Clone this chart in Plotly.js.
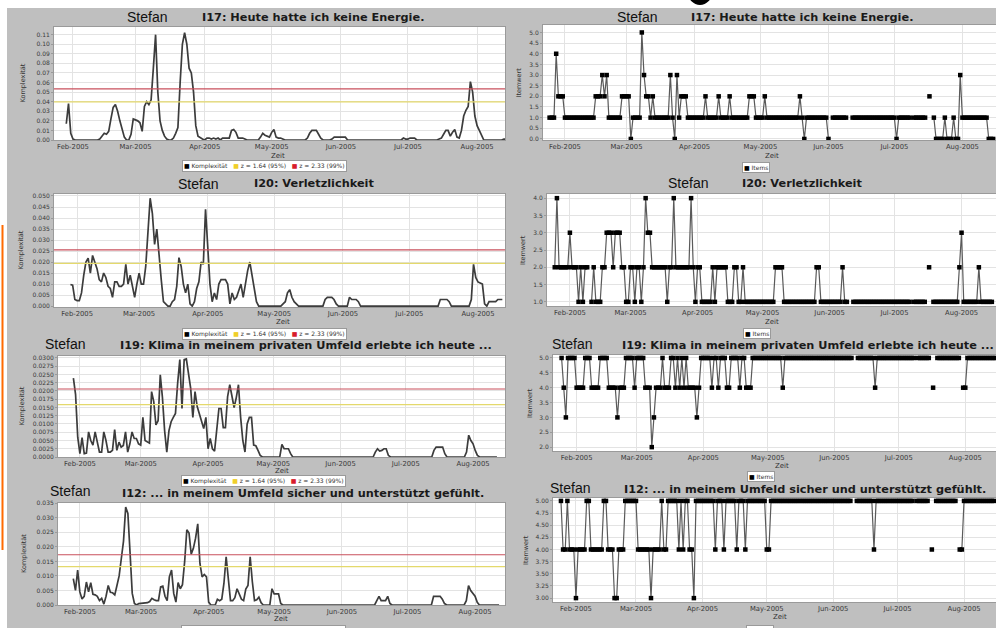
<!DOCTYPE html>
<html><head><meta charset="utf-8">
<script src="https://cdn.plot.ly/plotly-3.0.1.min.js"></script>
<style>html,body{margin:0;padding:0;background:#fff}#chart{width:996px;height:628px}</style>
</head><body><div id="chart"></div>
<script>
// ---------------- DATA ----------------
const START = [2005, 0, 25];      // first day of the daily series (25 Jan 2005)
const N_DAYS = 203;               // 25 Jan .. 15 Aug 2005
const person = 'Stefan';
const itemTitles = [
  'I17: Heute hatte ich keine Energie.',
  'I20: Verletzlichkeit',
  'I19: Klima in meinem privaten Umfeld erlebte ich heute ...',
  'I12: ... in meinem Umfeld sicher und unterstützt gefühlt.'
];
const xTitle = 'Zeit';
const yTitleLeft = 'Komplexität';
const yTitleRight = 'Itemwert';
const seriesNames = ['Komplexität', 'z = 1.64 (95%)', 'z = 2.33 (99%)'];
const itemSeriesName = 'Items';
const z95 = [0.0398, 0.0194, 0.01585, 0.0132];
const z99 = [0.0534, 0.0255, 0.0206, 0.0173];

const komplexI17 = [
null,null,null,null,0.017,0.038,0.007,0.001,0,0,
0,0,0,0,0,0,0,0,0,0.001,
0.004,0.007,0.006,0.009,0.022,0.034,0.037,0.03,0.02,0.01,
0.003,0,0,0.006,0.022,0.021,0.02,0.018,0.009,0.035,
0.04,0.037,0.042,0.075,0.11,0.05,0.02,0.01,0.004,0.001,
0,0,0.002,0.007,0.013,0.06,0.1,0.112,0.1,0.075,
0.07,0.05,0.015,0.004,0.002,0.001,0,0.002,0.002,0.001,
0.002,0.001,0.002,0,0.002,0.002,0.002,0.002,0.01,0.011,
0.008,0.002,0.002,0.002,0.001,0,0,0,0,0,
0,0.003,0.007,0.005,0.004,0.003,0.008,0.011,0.003,0.002,
0.002,0.001,0,0,0,0,0,0,0,0,
0,0,0.002,0.007,0.01,0.01,0.01,0.006,0.002,0,
0,0,0,0.001,0.003,0.003,0.003,0.003,0.003,0.003,
0,0,0,0,0,0,0,0,0,0,
0,0,0,0,0,0,0,0,0,0,
0,0,0,0,0,0.002,0.001,0.001,0.002,0.002,
0.002,0,0,0,0,0,0,0,0,0,
0,0.001,0.002,0.006,0.01,0.01,0.004,0.008,0.011,0.003,
0.002,0.01,0.025,0.031,0.035,0.061,0.05,0.025,0.015,0.01,
0.004,0,0,0,0,0,0,0,0,0,
0.001,0.001,0.001];

const itemsI17 = [
1,1,1,4,2,2,2,1,1,1,
1,1,1,1,1,1,1,1,1,1,
1,2,2,2,3,2,3,1,1,1,
1,1,1,2,2,2,2,0,1,1,
1,1,5,3,2,2,1,2,1,1,
1,1,1,1,1,3,1,0,3,1,
2,2,2,1,1,1,1,1,1,1,
1,2,1,1,1,1,1,2,1,1,
1,1,2,1,1,1,1,1,1,1,
1,2,2,2,1,1,1,1,2,1,
1,1,1,1,1,1,1,1,1,1,
1,1,1,1,2,1,0,1,1,1,
1,1,1,1,1,1,1,0,null,1,
1,1,1,1,1,1,null,null,1,1,
1,1,1,1,1,1,1,1,1,1,
1,1,1,1,1,1,1,1,0,1,
1,1,1,1,1,null,1,1,1,1,
1,1,null,2,null,1,0,0,0,0,
1,0,0,0,1,0,0,3,1,1,
1,1,1,1,1,1,1,1,1,1,
0,0,0];

const komplexI20 = [
null,null,null,null,0.0098,0.0095,0.003,0.0025,0.0025,0.006,
0.014,0.02,0.0218,0.015,0.023,0.02,0.017,0.012,0.011,0.015,
0.013,0.009,0.008,0.004,0.011,0.011,0.009,0.009,0.01,0.019,
0.01,0.014,0.009,0.004,0.01,0.015,0.01,0.01,0.018,0.034,
0.049,0.042,0.028,0.035,0.022,0.012,0.002,0.001,0,0,
0.002,0.003,0.009,0.022,0.018,0.01,0.006,0.01,0.001,0,
0.002,0.008,0.011,0.02,0.019,0.044,0.024,0.01,0.002,0.006,
0.003,0.01,0.012,0.012,0.012,0.01,0.001,0.006,0.003,0.004,
0.007,0.01,0.004,0.011,0.016,0.02,0.014,0.008,0.002,0,
0,0,0,0,0,0,0,0,0,0,
0.001,0.002,0.006,0.0075,0.004,0.002,0.001,0,0,0,
0,0,0,0,0,0,0,0,0,0.003,
0.004,0.004,0.004,0.003,0.001,0,0,0,0,0,
0.004,0.003,0.003,0.003,0.002,0,0,0,0,0,
0,0,0,0,0,0,0,0,0,0,
0,0,0,0,0,0,0,0,0,0,
0,0,0,0,0,0,0,0,0,0,
0,0.003,0.003,0.003,0.003,0.002,0,0,0,0,
0,0,0,0,0,0.003,0.019,0.013,0.011,0.0105,
0.01,0.001,0,0.002,0.002,0.002,0.002,0.003,0.003,0.003,
null,null,null];

const itemsI20 = [
2,4,2,2,2,2,2,3,2,2,
2,1,2,1,2,2,null,1,2,1,
1,1,2,2,3,3,3,2,3,3,
3,2,2,1,1,2,2,1,2,2,
1,2,4,3,3,2,2,2,2,2,
2,2,1,2,2,4,2,2,2,2,
2,2,2,4,2,1,2,2,1,1,
1,1,1,2,1,2,2,2,2,2,
1,1,1,2,2,1,1,2,1,1,
1,1,1,1,1,1,1,1,1,1,
1,1,2,2,2,2,1,1,1,1,
1,1,1,1,1,1,1,1,1,1,
1,2,2,1,1,1,1,1,1,1,
1,1,1,2,1,1,null,null,1,1,
1,1,1,1,1,1,1,1,1,1,
1,1,1,1,1,1,1,1,1,1,
1,1,1,1,1,null,1,1,1,1,
1,1,null,2,null,1,1,1,1,1,
1,1,1,1,1,1,1,2,3,1,
1,1,1,1,1,1,2,1,1,1,
1,1,1];

const komplexI19 = [
null,null,null,null,0.0239,0.019,0.006,0.001,0.0059,0.001,
0.0012,0.0076,0.005,0.0036,0.0076,0.004,0.0015,0.0015,0.0076,0.005,
0.0015,0.0015,0.002,0.0083,0.002,0.0045,0.003,0.0035,0.0076,0.0015,
0.004,0.0076,0.0056,0.0056,0.004,0.0036,0.012,0.005,0.0046,0.0042,
0.0198,0.0168,0.0097,0.011,0.0249,0.018,0.008,0.0015,0.008,0.0107,
0.012,0.0132,0.0224,0.0295,0.0147,0.0295,0.0297,0.0254,0.0208,0.012,
0.0198,0.0153,0.013,0.0112,0.0086,0.012,0.0025,0.0056,0.0025,0.0018,
0.008,0.0147,0.0147,0.0089,0.0089,0.0183,0.0219,0.0183,0.015,0.018,
0.0219,0.012,0.005,0.0015,0.01,0.012,0.012,0.0036,0.0034,0.002,
0.0005,0,0,0,0,0,0,0,0,0,
0.0038,0.0025,0.0025,0.0025,0.001,0,0,0,0,0,
0,0,0,0,0,0,0,0,0,0,
0,0,0,0,0,0,0,0,0,0,
0,0,0,0,0,0,0,0,0,0,
0,0,0,0.0015,0.0025,0.0018,0.002,0.0025,0.0025,0.0005,
0,0,0,0,0,0,0,0,0,0,
0,0,0,0,0,0,0,0,0,0,
0.002,0.003,0.003,0.003,0.003,0.001,0,0,0,0,
0,0,0,0,0,0.0015,0.0066,0.005,0.004,0.002,
0.0005,0,0,0,0,0,0,0,0,0,
null,null,null];

const itemsI19 = [
5,4,3,5,5,5,5,4,4,4,
4,5,5,5,4,4,4,4,5,5,
5,5,4,4,4,4,3,4,4,4,
5,5,5,5,4,5,5,5,5,4,
4,4,2,3,4,4,4,5,4,4,
4,5,5,4,5,4,5,4,5,4,
4,4,4,3,4,5,5,5,5,5,
4,5,5,4,5,5,5,4,4,5,
5,5,5,4,5,5,4,4,4,5,
5,5,5,5,5,5,5,5,5,5,
5,5,5,4,5,5,5,5,5,5,
5,5,5,5,5,5,5,5,5,5,
5,5,5,5,5,5,5,5,5,5,
5,5,5,5,5,5,null,null,5,5,
5,5,5,5,5,5,4,5,5,5,
5,5,5,5,5,5,5,5,5,5,
5,5,5,5,5,null,5,5,5,5,
5,5,null,4,null,5,5,5,5,5,
5,5,5,5,5,5,null,4,4,5,
5,5,5,5,5,5,5,5,5,5,
5,5,5];

const komplexI12 = [
null,null,null,null,0.0091,0.005,0.012,0.0045,0.0021,0.003,
0.0079,0.0045,0.0077,0.0037,0.0035,0.003,0.0015,0.0023,0.0003,0.003,
0.0067,0.0044,0.0042,0.0035,0.0067,0.01,0.016,0.022,0.0337,0.0315,
0.018,0.004,0.0005,0,0.0005,0.0006,0.0006,0.0006,0.0008,0.0012,
0.0023,0.0018,0.0015,0.0015,0.0062,0.0065,0.003,0.0015,0.0097,0.012,
0.004,0.001,0.0077,0.0056,0.007,0.0149,0.0259,0.0248,0.0175,0.0195,
0.023,0.0279,0.0143,0.0097,0.0105,0.0097,0.001,0,0,0,
0.002,0.0015,0.002,0.0075,0.0166,0.0079,0.0015,0.0015,0.0025,0.0056,
0.004,0.002,0.0015,0.0055,0.0067,0.0166,0.008,0.0015,0.0018,0.0027,
0.0008,0,0,0,0,0.0056,0.0038,0.0038,0.0038,0.0005,
0,0,0,0,0,0,0,0,0,0,
0,0,0,0,0,0,0,0,0,0,
0,0,0,0,0,0,0,0,0,0,
0,0,0,0,0,0,0,0,0,0,
0,0,0,0.0015,0.003,0.0015,0.0015,0.0015,0.003,0.0005,
0,0,0,0,0,0,0,0,0,0,
0,0,0,0,0,0,0,0,0,0.003,
0.003,0.003,0.003,0.002,0.0005,0,0,0,0,0,
0,0,0,0,0.0015,0.0067,0.005,0.004,0.003,0.0009,
0,0,0,0,0,0,0,0,0,0,
null,null,null];

const itemsI12 = [
5,4,4,5,4,4,4,3,4,4,
4,4,5,5,4,4,4,4,4,4,
5,5,4,4,4,3,3,4,4,4,
5,5,5,5,5,5,4,4,4,4,
4,4,3,4,4,4,4,5,4,4,
5,5,5,5,5,4,5,4,5,5,
4,4,3,5,5,5,5,5,5,5,
5,5,4,5,5,5,4,5,5,5,
5,5,4,5,5,5,4,5,5,5,
5,5,5,5,5,5,4,4,5,5,
5,5,5,5,5,5,5,5,5,5,
5,5,5,5,5,5,5,5,5,5,
5,5,5,5,5,5,5,5,5,5,
5,5,5,5,5,5,null,null,5,5,
5,5,5,5,5,5,4,5,5,5,
5,5,5,5,5,5,5,5,5,5,
5,5,5,5,5,null,5,5,5,5,
5,5,null,4,null,5,5,5,5,5,
5,5,5,5,5,null,4,4,5,5,
5,5,5,5,5,5,5,5,5,5,
5,5,5];

const komplexSeries = [komplexI17, komplexI20, komplexI19, komplexI12];
const itemSeries = [itemsI17, itemsI20, itemsI19, itemsI12];

// ---------------- LAYOUT CONFIG (pixels) ----------------
const W = 996, H = 628;
const fx = x => x / W, fy = y => 1 - y / H;

[...komplexSeries, ...itemSeries].forEach((s, i) => {
  if (s.length !== N_DAYS) throw new Error('series ' + i + ' has length ' + s.length);
});
const dates = [];
for (let i = 0; i < N_DAYS; i++) {
  const d = new Date(Date.UTC(START[0], START[1], START[2] + i));
  dates.push(d.toISOString().slice(0, 10));
}

const panels = [
  { // row 1
    L: {x: [54, 505], y: [27, 140], xr: ['2005-01-23 12:00', '2005-08-13 12:00'], yr: [0, 0.118], dt: 0.01, fmt: '.2f'},
    R: {x: [543, 996], y: [25, 140], xr: ['2005-01-22', '2005-08-16 07:00'], yr: [-0.05, 5.35], dt: 0.5, fmt: '.1f'},
    stefanL: [147, 17], titleL: [313, 17, 'middle'], stefanR: [637, 17], titleR: [802, 17, 'middle'],
    zeitL: [278, 156], zeitR: [772, 156], ytL: 22, ytR: 518, legL: [264, 166], legR: [756, 167]
  },
  { // row 2
    L: {x: [54, 505], y: [194, 307], xr: ['2005-01-21 14:00', '2005-08-13 05:00'], yr: [-0.0004, 0.0509], dt: 0.005, fmt: '.3f'},
    R: {x: [547, 996], y: [194, 306], xr: ['2005-01-21 10:00', '2005-08-16 22:00'], yr: [0.88, 4.12], dt: 0.5, fmt: '.1f'},
    stefanL: [198, 184], titleL: [314, 184, 'middle'], stefanR: [688, 183], titleR: [802, 183, 'middle'],
    zeitL: [283, 322], zeitR: [772, 322], ytL: 21, ytR: 523, legL: [264, 334], legR: [757, 333]
  },
  { // row 3
    L: {x: [58, 505], y: [356, 457], xr: ['2005-01-21 22:00', '2005-08-15 17:00'], yr: [0, 0.0306], dt: 0.0025, fmt: '.4f'},
    R: {x: [553, 996], y: [355, 451], xr: ['2005-01-21', '2005-08-15 07:00'], yr: [1.87, 5.1], dt: 0.5, fmt: '.1f'},
    stefanL: [65, 344], titleL: [118, 345, 'left'], stefanR: [572, 344], titleR: [620, 345, 'left'],
    zeitL: [282, 471], zeitR: [782, 466], ytL: 21, ytR: 530, legL: [263, 481], legR: [761, 476]
  },
  { // row 4
    L: {x: [58, 505], y: [503, 605], xr: ['2005-01-22', '2005-08-14 17:00'], yr: [0, 0.0351], dt: 0.005, fmt: '.3f'},
    R: {x: [553, 996], y: [498, 602], xr: ['2005-01-21 07:00', '2005-08-15 22:00'], yr: [2.92, 5.06], dt: 0.25, fmt: '.2f'},
    stefanL: [70, 491], titleL: [120, 493, 'left'], stefanR: [570, 488], titleR: [622, 489, 'left'],
    zeitL: [281, 619], zeitR: [780, 617], ytL: 24, ytR: 526, legL: [263, 631], legR: [760, 630]
  }
];

const tickFontX = {family: 'DejaVu Sans', size: 6.8, color: '#3a3a3a'};
const tickFontY = {family: 'DejaVu Sans', size: 6, color: '#3a3a3a'};
const lineGray = '#9a9a9a';
const gridCol = '#e3e3e3';
const yellow = '#e4d96c', red = '#c9505c';
const legYellow = '#f0cf2a', legRed = '#d81c2c';

const traces = [];
const layout = {
  width: W, height: H, margin: {l: 0, r: 0, t: 0, b: 0},
  paper_bgcolor: '#bfbfbf', plot_bgcolor: '#ffffff', showlegend: false,
  font: {family: 'DejaVu Sans', color: '#222'},
  shapes: [], annotations: []
};

function axisPair(k, cfg) {
  const xn = 'xaxis' + (k === 1 ? '' : k), yn = 'yaxis' + (k === 1 ? '' : k);
  layout[xn] = {
    type: 'date', domain: [fx(cfg.x[0]), fx(cfg.x[1])], range: cfg.xr, anchor: 'y' + k,
    tick0: '2005-02-01', dtick: 'M1', tickformat: '%b-%Y', tickfont: tickFontX,
    showgrid: true, gridcolor: gridCol, gridwidth: 1, zeroline: false,
    showline: true, linecolor: lineGray, linewidth: 1, mirror: true,
    ticks: '', ticklabelstandoff: 0
  };
  layout[yn] = {
    domain: [fy(cfg.y[1]), fy(cfg.y[0])], range: cfg.yr, anchor: 'x' + k,
    dtick: cfg.dt, tick0: 0, tickformat: cfg.fmt, tickfont: tickFontY,
    showgrid: true, gridcolor: gridCol, gridwidth: 1, zeroline: false,
    showline: true, linecolor: lineGray, linewidth: 1, mirror: true,
    ticks: 'outside', ticklen: 2, tickcolor: lineGray
  };
}

function ann(text, x, y, opts) {
  layout.annotations.push(Object.assign({
    text: text, x: fx(x), y: fy(y), xref: 'paper', yref: 'paper',
    showarrow: false, xanchor: 'center', yanchor: 'middle'
  }, opts || {}));
}

const stefanFont = {family: 'Liberation Sans Narrow, Liberation Sans, Arial', size: 14, color: '#111'};
const titleFont = {family: 'DejaVu Sans', size: 11.3, color: '#1a1a1a'};
const smallFont = {family: 'DejaVu Sans', size: 6.5, color: '#333'};

panels.forEach((p, i) => {
  const kL = 2 * i + 1, kR = 2 * i + 2;
  axisPair(kL, p.L);
  axisPair(kR, p.R);

  traces.push({
    x: dates, y: komplexSeries[i], xaxis: 'x' + kL, yaxis: 'y' + kL,
    type: 'scatter', mode: 'lines', name: seriesNames[0],
    line: {color: '#3c3c3c', width: 1.7}, connectgaps: false, hoverinfo: 'skip'
  });
  traces.push({
    x: dates, y: itemSeries[i], xaxis: 'x' + kR, yaxis: 'y' + kR,
    type: 'scatter', mode: 'lines+markers', name: itemSeriesName,
    line: {color: '#5a5a5a', width: 1.2},
    marker: {symbol: 'square', size: 4.5, color: '#000'}, connectgaps: false, hoverinfo: 'skip'
  });

  // z thresholds: horizontal lines positioned on the data scale
  [[z95[i], yellow], [z99[i], red]].forEach(([v, c]) => {
    layout.shapes.push({type: 'line', xref: 'x' + kL + ' domain', yref: 'y' + kL,
      x0: 0, x1: 1, y0: v, y1: v, line: {color: c, width: 1.2}, layer: 'above'});
  });

  // texts
  ann(person, p.stefanL[0], p.stefanL[1], {font: stefanFont});
  ann(person, p.stefanR[0], p.stefanR[1], {font: stefanFont});
  ann('<b>' + itemTitles[i] + '</b>', p.titleL[0], p.titleL[1], {font: titleFont, xanchor: p.titleL[2] === 'left' ? 'left' : 'center'});
  ann('<b>' + itemTitles[i] + '</b>', p.titleR[0], p.titleR[1], {font: titleFont, xanchor: p.titleR[2] === 'left' ? 'left' : 'center'});
  ann(xTitle, p.zeitL[0], p.zeitL[1], {font: {family: 'DejaVu Sans', size: 7, color: '#333'}});
  ann(xTitle, p.zeitR[0], p.zeitR[1], {font: {family: 'DejaVu Sans', size: 7, color: '#333'}});
  ann(yTitleLeft, p.ytL, (p.L.y[0] + p.L.y[1]) / 2, {font: smallFont, textangle: -90});
  ann(yTitleRight, p.ytR, (p.R.y[0] + p.R.y[1]) / 2, {font: smallFont, textangle: -90});

  // legends
  const legTxt = '<span style="color:#000">■</span> ' + seriesNames[0] +
    '   <span style="color:' + legYellow + '">■</span> ' + seriesNames[1] +
    '   <span style="color:' + legRed + '">■</span> ' + seriesNames[2];
  ann(legTxt, p.legL[0], p.legL[1], {font: {family: 'DejaVu Sans', size: 6, color: '#333'},
    bgcolor: '#ffffff', bordercolor: '#9a9a9a', borderwidth: 1, borderpad: 1});
  ann('<span style="color:#000">■</span> ' + itemSeriesName, p.legR[0], p.legR[1],
    {font: {family: 'DejaVu Sans', size: 6, color: '#333'},
     bgcolor: '#ffffff', bordercolor: '#9a9a9a', borderwidth: 1, borderpad: 1});
});

// page decorations: white margins, orange rule, fragment of a large heading
layout.shapes.push({type: 'rect', xref: 'paper', yref: 'paper', x0: 0, x1: 1, y0: fy(8), y1: 1,
  fillcolor: '#ffffff', line: {width: 0}, layer: 'below'});
layout.shapes.push({type: 'rect', xref: 'paper', yref: 'paper', x0: 0, x1: fx(7), y0: 0, y1: 1,
  fillcolor: '#ffffff', line: {width: 0}, layer: 'below'});
layout.shapes.push({type: 'line', xref: 'paper', yref: 'paper', x0: fx(2.5), x1: fx(2.5), y0: fy(225), y1: fy(550),
  line: {color: '#ff6a00', width: 2}});
layout.shapes.push({type: 'circle', xref: 'paper', yref: 'paper', x0: fx(688), x1: fx(712), y0: fy(5), y1: fy(-20),
  fillcolor: '#000', line: {width: 0}});

Plotly.newPlot('chart', traces, layout, {staticPlot: true, displayModeBar: false});
</script>
</body></html>
